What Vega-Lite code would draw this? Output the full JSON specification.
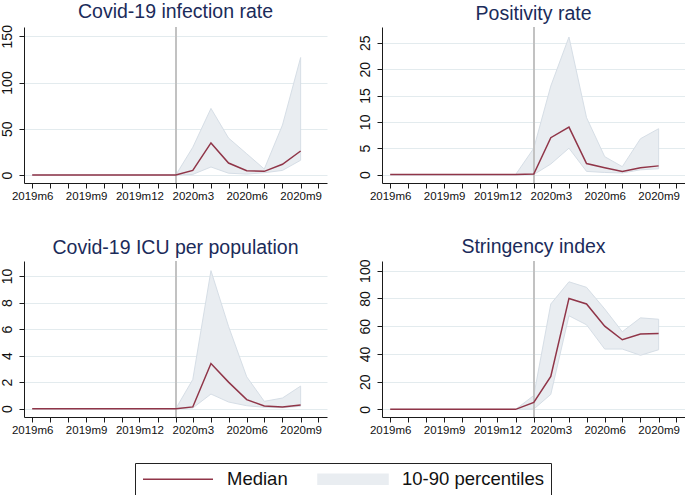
{
  "$schema": "https://vega.github.io/schema/vega-lite/v6.json",
  "padding": {"left": 0, "top": 2, "right": 0, "bottom": 0},
  "background": "white",
  "data": {"values": [
    {"panel": "infection", "month": "2019-06-01", "median": 0, "p10": 0, "p90": 0},
    {"panel": "infection", "month": "2019-07-01", "median": 0, "p10": 0, "p90": 0},
    {"panel": "infection", "month": "2019-08-01", "median": 0, "p10": 0, "p90": 0},
    {"panel": "infection", "month": "2019-09-01", "median": 0, "p10": 0, "p90": 0},
    {"panel": "infection", "month": "2019-10-01", "median": 0, "p10": 0, "p90": 0},
    {"panel": "infection", "month": "2019-11-01", "median": 0, "p10": 0, "p90": 0},
    {"panel": "infection", "month": "2019-12-01", "median": 0, "p10": 0, "p90": 0},
    {"panel": "infection", "month": "2020-01-01", "median": 0, "p10": 0, "p90": 0},
    {"panel": "infection", "month": "2020-02-01", "median": 0, "p10": 0, "p90": 0},
    {"panel": "infection", "month": "2020-03-01", "median": 5, "p10": 0.7, "p90": 30},
    {"panel": "infection", "month": "2020-04-01", "median": 34.7, "p10": 8.7, "p90": 72},
    {"panel": "infection", "month": "2020-05-01", "median": 13, "p10": 2, "p90": 40},
    {"panel": "infection", "month": "2020-06-01", "median": 4.7, "p10": 1, "p90": 23},
    {"panel": "infection", "month": "2020-07-01", "median": 4, "p10": 2.5, "p90": 6.5},
    {"panel": "infection", "month": "2020-08-01", "median": 11.6, "p10": 5, "p90": 54},
    {"panel": "infection", "month": "2020-09-01", "median": 26, "p10": 16, "p90": 127},
    {"panel": "positivity", "month": "2019-06-01", "median": 0, "p10": 0, "p90": 0},
    {"panel": "positivity", "month": "2019-07-01", "median": 0, "p10": 0, "p90": 0},
    {"panel": "positivity", "month": "2019-08-01", "median": 0, "p10": 0, "p90": 0},
    {"panel": "positivity", "month": "2019-09-01", "median": 0, "p10": 0, "p90": 0},
    {"panel": "positivity", "month": "2019-10-01", "median": 0, "p10": 0, "p90": 0},
    {"panel": "positivity", "month": "2019-11-01", "median": 0, "p10": 0, "p90": 0},
    {"panel": "positivity", "month": "2019-12-01", "median": 0, "p10": 0, "p90": 0},
    {"panel": "positivity", "month": "2020-01-01", "median": 0, "p10": 0, "p90": 0},
    {"panel": "positivity", "month": "2020-02-01", "median": 0.1, "p10": 0, "p90": 5},
    {"panel": "positivity", "month": "2020-03-01", "median": 7, "p10": 2, "p90": 16.8},
    {"panel": "positivity", "month": "2020-04-01", "median": 9, "p10": 5, "p90": 26.1},
    {"panel": "positivity", "month": "2020-05-01", "median": 2.1, "p10": 0.6, "p90": 10.8},
    {"panel": "positivity", "month": "2020-06-01", "median": 1.3, "p10": 0.4, "p90": 3.4},
    {"panel": "positivity", "month": "2020-07-01", "median": 0.6, "p10": 0.3, "p90": 1.5},
    {"panel": "positivity", "month": "2020-08-01", "median": 1.3, "p10": 0.9, "p90": 6.8},
    {"panel": "positivity", "month": "2020-09-01", "median": 1.65, "p10": 1.1, "p90": 8.7},
    {"panel": "icu", "month": "2019-06-01", "median": 0, "p10": 0, "p90": 0},
    {"panel": "icu", "month": "2019-07-01", "median": 0, "p10": 0, "p90": 0},
    {"panel": "icu", "month": "2019-08-01", "median": 0, "p10": 0, "p90": 0},
    {"panel": "icu", "month": "2019-09-01", "median": 0, "p10": 0, "p90": 0},
    {"panel": "icu", "month": "2019-10-01", "median": 0, "p10": 0, "p90": 0},
    {"panel": "icu", "month": "2019-11-01", "median": 0, "p10": 0, "p90": 0},
    {"panel": "icu", "month": "2019-12-01", "median": 0, "p10": 0, "p90": 0},
    {"panel": "icu", "month": "2020-01-01", "median": 0, "p10": 0, "p90": 0},
    {"panel": "icu", "month": "2020-02-01", "median": 0, "p10": 0, "p90": 0},
    {"panel": "icu", "month": "2020-03-01", "median": 0.13, "p10": 0.05, "p90": 2.2},
    {"panel": "icu", "month": "2020-04-01", "median": 3.4, "p10": 1.1, "p90": 10.4},
    {"panel": "icu", "month": "2020-05-01", "median": 2.0, "p10": 0.5, "p90": 6.2},
    {"panel": "icu", "month": "2020-06-01", "median": 0.68, "p10": 0.22, "p90": 2.4},
    {"panel": "icu", "month": "2020-07-01", "median": 0.2, "p10": 0.1, "p90": 0.55},
    {"panel": "icu", "month": "2020-08-01", "median": 0.13, "p10": 0.07, "p90": 0.8},
    {"panel": "icu", "month": "2020-09-01", "median": 0.28, "p10": 0.18, "p90": 1.7},
    {"panel": "stringency", "month": "2019-06-01", "median": 0, "p10": 0, "p90": 0},
    {"panel": "stringency", "month": "2019-07-01", "median": 0, "p10": 0, "p90": 0},
    {"panel": "stringency", "month": "2019-08-01", "median": 0, "p10": 0, "p90": 0},
    {"panel": "stringency", "month": "2019-09-01", "median": 0, "p10": 0, "p90": 0},
    {"panel": "stringency", "month": "2019-10-01", "median": 0, "p10": 0, "p90": 0},
    {"panel": "stringency", "month": "2019-11-01", "median": 0, "p10": 0, "p90": 0},
    {"panel": "stringency", "month": "2019-12-01", "median": 0, "p10": 0, "p90": 0},
    {"panel": "stringency", "month": "2020-01-01", "median": 0, "p10": 0, "p90": 0},
    {"panel": "stringency", "month": "2020-02-01", "median": 5, "p10": 0.2, "p90": 10},
    {"panel": "stringency", "month": "2020-03-01", "median": 23.8, "p10": 10.8, "p90": 76},
    {"panel": "stringency", "month": "2020-04-01", "median": 80, "p10": 67.5, "p90": 92},
    {"panel": "stringency", "month": "2020-05-01", "median": 76, "p10": 61, "p90": 88},
    {"panel": "stringency", "month": "2020-06-01", "median": 60, "p10": 43.5, "p90": 72.4},
    {"panel": "stringency", "month": "2020-07-01", "median": 50.2, "p10": 43.5, "p90": 56},
    {"panel": "stringency", "month": "2020-08-01", "median": 54.3, "p10": 39, "p90": 66},
    {"panel": "stringency", "month": "2020-09-01", "median": 54.8, "p10": 43, "p90": 65}
  ]},
  "columns": 2,
  "spacing": {"row": 34, "column": 30},
  "resolve": {"scale": {"color": "shared"}, "legend": {"color": "shared"}},
  "concat": [
    {
      "title": {"text": "Covid-19 infection rate"},
      "width": 303, "height": 156,
      "transform": [{"filter": "datum.panel === 'infection'"}],
      "encoding": {
        "x": {"field": "month", "type": "temporal", "title": null,
              "scale": {"type": "utc", "nice": false, "domain": [{"year": 2019, "month": 5, "date": 18, "utc": true}, {"year": 2020, "month": 10, "date": 16, "utc": true}]},
              "axis": {"tickCount": {"interval": "month", "step": 1}, "labelOverlap": false, "labelFlush": false, "grid": false,
                       "labelExpr": "utcmonth(datum.value) % 3 == 2 ? utcyear(datum.value) + 'm' + (utcmonth(datum.value) + 1) : ''"}}
      },
      "layer": [
        {"mark": {"type": "area", "stroke": "#d6dee6", "strokeWidth": 1, "opacity": 1},
         "encoding": {
           "y": {"field": "p10", "type": "quantitative", "title": null, "scale": {"domain": [-8.6, 160], "nice": false, "zero": false}, "axis": {"values": [0, 50, 100, 150], "labelOverlap": false}},
           "y2": {"field": "p90"},
           "color": {"datum": "10-90 percentiles", "type": "nominal",
             "scale": {"domain": ["Median", "10-90 percentiles"], "range": ["#903548", "#e9edf1"]},
             "legend": {"title": null, "encoding": {"symbols": {
               "shape": {"value": {"expr": "datum.label === 'Median' ? 'M-1,0H1' : 'M-1,-0.14H1V0.14H-1Z'"}},
               "fill": {"value": {"expr": "datum.label === 'Median' ? 'transparent' : '#e9edf1'"}},
               "stroke": {"value": {"expr": "datum.label === 'Median' ? '#903548' : '#d6dee6'"}}}}}}
         }},
        {"mark": {"type": "rule", "color": "#c2c2c2", "strokeWidth": 1.3},
         "encoding": {"x": {"datum": {"year": 2020, "month": 2, "date": 1, "utc": true}, "type": "temporal"}}},
        {"mark": {"type": "line", "strokeWidth": 1.5},
         "encoding": {
           "y": {"field": "median", "type": "quantitative", "title": null, "scale": {"domain": [-8.6, 160], "nice": false, "zero": false}, "axis": {"values": [0, 50, 100, 150], "labelOverlap": false}},
           "color": {"datum": "Median", "type": "nominal",
             "scale": {"domain": ["Median", "10-90 percentiles"], "range": ["#903548", "#e9edf1"]},
             "legend": {"title": null, "encoding": {"symbols": {
               "shape": {"value": {"expr": "datum.label === 'Median' ? 'M-1,0H1' : 'M-1,-0.14H1V0.14H-1Z'"}},
               "fill": {"value": {"expr": "datum.label === 'Median' ? 'transparent' : '#e9edf1'"}},
               "stroke": {"value": {"expr": "datum.label === 'Median' ? '#903548' : '#d6dee6'"}}}}}}
         }}
      ]
    },
    {
      "title": {"text": "Positivity rate"},
      "width": 303, "height": 156,
      "transform": [{"filter": "datum.panel === 'positivity'"}],
      "encoding": {
        "x": {"field": "month", "type": "temporal", "title": null,
              "scale": {"type": "utc", "nice": false, "domain": [{"year": 2019, "month": 5, "date": 18, "utc": true}, {"year": 2020, "month": 10, "date": 16, "utc": true}]},
              "axis": {"tickCount": {"interval": "month", "step": 1}, "labelOverlap": false, "labelFlush": false, "grid": false,
                       "labelExpr": "utcmonth(datum.value) % 3 == 2 ? utcyear(datum.value) + 'm' + (utcmonth(datum.value) + 1) : ''"}}
      },
      "layer": [
        {"mark": {"type": "area", "stroke": "#d6dee6", "strokeWidth": 1, "opacity": 1},
         "encoding": {
           "y": {"field": "p10", "type": "quantitative", "title": null, "scale": {"domain": [-1.6, 28], "nice": false, "zero": false}, "axis": {"values": [0, 5, 10, 15, 20, 25], "labelOverlap": false}},
           "y2": {"field": "p90"},
           "color": {"datum": "10-90 percentiles", "type": "nominal",
             "scale": {"domain": ["Median", "10-90 percentiles"], "range": ["#903548", "#e9edf1"]},
             "legend": {"title": null, "encoding": {"symbols": {
               "shape": {"value": {"expr": "datum.label === 'Median' ? 'M-1,0H1' : 'M-1,-0.14H1V0.14H-1Z'"}},
               "fill": {"value": {"expr": "datum.label === 'Median' ? 'transparent' : '#e9edf1'"}},
               "stroke": {"value": {"expr": "datum.label === 'Median' ? '#903548' : '#d6dee6'"}}}}}}
         }},
        {"mark": {"type": "rule", "color": "#c2c2c2", "strokeWidth": 1.3},
         "encoding": {"x": {"datum": {"year": 2020, "month": 2, "date": 1, "utc": true}, "type": "temporal"}}},
        {"mark": {"type": "line", "strokeWidth": 1.5},
         "encoding": {
           "y": {"field": "median", "type": "quantitative", "title": null, "scale": {"domain": [-1.6, 28], "nice": false, "zero": false}, "axis": {"values": [0, 5, 10, 15, 20, 25], "labelOverlap": false}},
           "color": {"datum": "Median", "type": "nominal",
             "scale": {"domain": ["Median", "10-90 percentiles"], "range": ["#903548", "#e9edf1"]},
             "legend": {"title": null, "encoding": {"symbols": {
               "shape": {"value": {"expr": "datum.label === 'Median' ? 'M-1,0H1' : 'M-1,-0.14H1V0.14H-1Z'"}},
               "fill": {"value": {"expr": "datum.label === 'Median' ? 'transparent' : '#e9edf1'"}},
               "stroke": {"value": {"expr": "datum.label === 'Median' ? '#903548' : '#d6dee6'"}}}}}}
         }}
      ]
    },
    {
      "title": {"text": "Covid-19 ICU per population"},
      "width": 303, "height": 156,
      "transform": [{"filter": "datum.panel === 'icu'"}],
      "encoding": {
        "x": {"field": "month", "type": "temporal", "title": null,
              "scale": {"type": "utc", "nice": false, "domain": [{"year": 2019, "month": 5, "date": 18, "utc": true}, {"year": 2020, "month": 10, "date": 16, "utc": true}]},
              "axis": {"tickCount": {"interval": "month", "step": 1}, "labelOverlap": false, "labelFlush": false, "grid": false,
                       "labelExpr": "utcmonth(datum.value) % 3 == 2 ? utcyear(datum.value) + 'm' + (utcmonth(datum.value) + 1) : ''"}}
      },
      "layer": [
        {"mark": {"type": "area", "stroke": "#d6dee6", "strokeWidth": 1, "opacity": 1},
         "encoding": {
           "y": {"field": "p10", "type": "quantitative", "title": null, "scale": {"domain": [-0.63, 11.13], "nice": false, "zero": false}, "axis": {"values": [0, 2, 4, 6, 8, 10], "labelOverlap": false}},
           "y2": {"field": "p90"},
           "color": {"datum": "10-90 percentiles", "type": "nominal",
             "scale": {"domain": ["Median", "10-90 percentiles"], "range": ["#903548", "#e9edf1"]},
             "legend": {"title": null, "encoding": {"symbols": {
               "shape": {"value": {"expr": "datum.label === 'Median' ? 'M-1,0H1' : 'M-1,-0.14H1V0.14H-1Z'"}},
               "fill": {"value": {"expr": "datum.label === 'Median' ? 'transparent' : '#e9edf1'"}},
               "stroke": {"value": {"expr": "datum.label === 'Median' ? '#903548' : '#d6dee6'"}}}}}}
         }},
        {"mark": {"type": "rule", "color": "#c2c2c2", "strokeWidth": 1.3},
         "encoding": {"x": {"datum": {"year": 2020, "month": 2, "date": 1, "utc": true}, "type": "temporal"}}},
        {"mark": {"type": "line", "strokeWidth": 1.5},
         "encoding": {
           "y": {"field": "median", "type": "quantitative", "title": null, "scale": {"domain": [-0.63, 11.13], "nice": false, "zero": false}, "axis": {"values": [0, 2, 4, 6, 8, 10], "labelOverlap": false}},
           "color": {"datum": "Median", "type": "nominal",
             "scale": {"domain": ["Median", "10-90 percentiles"], "range": ["#903548", "#e9edf1"]},
             "legend": {"title": null, "encoding": {"symbols": {
               "shape": {"value": {"expr": "datum.label === 'Median' ? 'M-1,0H1' : 'M-1,-0.14H1V0.14H-1Z'"}},
               "fill": {"value": {"expr": "datum.label === 'Median' ? 'transparent' : '#e9edf1'"}},
               "stroke": {"value": {"expr": "datum.label === 'Median' ? '#903548' : '#d6dee6'"}}}}}}
         }}
      ]
    },
    {
      "title": {"text": "Stringency index"},
      "width": 303, "height": 156,
      "transform": [{"filter": "datum.panel === 'stringency'"}],
      "encoding": {
        "x": {"field": "month", "type": "temporal", "title": null,
              "scale": {"type": "utc", "nice": false, "domain": [{"year": 2019, "month": 5, "date": 18, "utc": true}, {"year": 2020, "month": 10, "date": 16, "utc": true}]},
              "axis": {"tickCount": {"interval": "month", "step": 1}, "labelOverlap": false, "labelFlush": false, "grid": false,
                       "labelExpr": "utcmonth(datum.value) % 3 == 2 ? utcyear(datum.value) + 'm' + (utcmonth(datum.value) + 1) : ''"}}
      },
      "layer": [
        {"mark": {"type": "area", "stroke": "#d6dee6", "strokeWidth": 1, "opacity": 1},
         "encoding": {
           "y": {"field": "p10", "type": "quantitative", "title": null, "scale": {"domain": [-5.5, 107], "nice": false, "zero": false}, "axis": {"values": [0, 20, 40, 60, 80, 100], "labelOverlap": false}},
           "y2": {"field": "p90"},
           "color": {"datum": "10-90 percentiles", "type": "nominal",
             "scale": {"domain": ["Median", "10-90 percentiles"], "range": ["#903548", "#e9edf1"]},
             "legend": {"title": null, "encoding": {"symbols": {
               "shape": {"value": {"expr": "datum.label === 'Median' ? 'M-1,0H1' : 'M-1,-0.14H1V0.14H-1Z'"}},
               "fill": {"value": {"expr": "datum.label === 'Median' ? 'transparent' : '#e9edf1'"}},
               "stroke": {"value": {"expr": "datum.label === 'Median' ? '#903548' : '#d6dee6'"}}}}}}
         }},
        {"mark": {"type": "rule", "color": "#c2c2c2", "strokeWidth": 1.3},
         "encoding": {"x": {"datum": {"year": 2020, "month": 2, "date": 1, "utc": true}, "type": "temporal"}}},
        {"mark": {"type": "line", "strokeWidth": 1.5},
         "encoding": {
           "y": {"field": "median", "type": "quantitative", "title": null, "scale": {"domain": [-5.5, 107], "nice": false, "zero": false}, "axis": {"values": [0, 20, 40, 60, 80, 100], "labelOverlap": false}},
           "color": {"datum": "Median", "type": "nominal",
             "scale": {"domain": ["Median", "10-90 percentiles"], "range": ["#903548", "#e9edf1"]},
             "legend": {"title": null, "encoding": {"symbols": {
               "shape": {"value": {"expr": "datum.label === 'Median' ? 'M-1,0H1' : 'M-1,-0.14H1V0.14H-1Z'"}},
               "fill": {"value": {"expr": "datum.label === 'Median' ? 'transparent' : '#e9edf1'"}},
               "stroke": {"value": {"expr": "datum.label === 'Median' ? '#903548' : '#d6dee6'"}}}}}}
         }}
      ]
    }
  ],
  "config": {
    "font": "Liberation Sans",
    "view": {"stroke": null},
    "title": {"font": "Liberation Sans", "fontSize": 19.5, "fontWeight": "normal", "color": "#1b2b5a", "offset": 2, "baseline": "alphabetic", "anchor": "middle", "frame": "group"},
    "axis": {"domainColor": "#1a1a1a", "tickColor": "#1a1a1a", "labelColor": "#111111", "labelFont": "Liberation Sans", "tickSize": 5, "domainWidth": 1, "tickWidth": 1},
    "axisX": {"labelFontSize": 11.5, "labelPadding": 2, "grid": false},
    "axisY": {"labelFontSize": 14, "labelAngle": 270, "labelAlign": "center", "labelBaseline": "bottom", "labelPadding": 5, "labelOverlap": false, "grid": true, "gridColor": "#e3ebee", "gridWidth": 1},
    "legend": {"orient": "bottom", "direction": "horizontal", "layout": {"anchor": "middle"}, "labelFontSize": 18.5, "labelFont": "Liberation Sans", "labelColor": "#111111", "symbolSize": 4900, "symbolStrokeWidth": 1.5, "clipHeight": 18, "labelOffset": 13, "columnPadding": 29, "padding": 7, "strokeColor": "#222222", "fillColor": "#ffffff", "offset": 27, "labelLimit": 300}
  }
}
